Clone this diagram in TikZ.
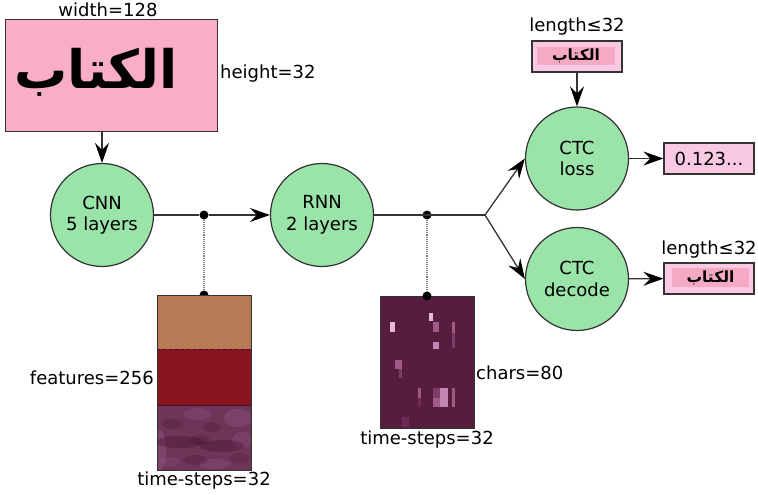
\documentclass[tikz,border=0pt]{standalone}
\usepackage{fontspec}
\setmainfont{DejaVu Sans}
\newfontfamily\arabicfont[Script=Arabic]{DejaVu Sans}
\TeXXeTstate=1
\usetikzlibrary{arrows.meta}
\definecolor{linec}{HTML}{333333}
\definecolor{greenfill}{HTML}{9AE3A9}
\definecolor{bigpink}{HTML}{F9ADC8}
\definecolor{lightpink}{HTML}{F9C9E4}
\definecolor{midpink}{HTML}{F5A9C5}
\definecolor{tanc}{HTML}{B87A55}
\definecolor{redc}{HTML}{8A141E}
\definecolor{purpc}{HTML}{6E3559}
\definecolor{darkp}{HTML}{3E0E2A}
\definecolor{lightp}{HTML}{A06090}
\definecolor{plum}{HTML}{561D3E}
\definecolor{cA}{HTML}{E8B8DC}
\definecolor{cB}{HTML}{A05A85}
\definecolor{cC}{HTML}{7E3D68}
\definecolor{cD}{HTML}{C486B4}
\definecolor{cE}{HTML}{6C2A55}
\begin{document}
\begin{tikzpicture}[x=1pt,y=-1pt,
  font=\fontsize{18}{21.5}\selectfont,
  ln/.style={draw=linec, line width=1.3pt},
  arr/.style={ln, -{Stealth[length=20pt,width=14pt,inset=7pt,color=black]}},
  proc/.style={circle, draw=linec, line width=1.2pt, fill=greenfill,
    minimum size=103pt, inner sep=0pt, align=center},
  dot/.style={circle, fill=black, minimum size=9pt, inner sep=0pt},
  dotln/.style={draw=gray, line width=1.1pt, densely dotted},
  pbox/.style={draw=linec, line width=1.2pt, fill=lightpink,
    minimum width=90pt, minimum height=31pt, inner sep=0pt},
  pinner/.style={fill=midpink, inner sep=0pt},
  blk/.style={draw=linec, line width=0.8pt, inner sep=0pt},
  lbl/.style={inner sep=0pt},
  smallar/.style={font=\fontsize{15.5}{17}\selectfont\arabicfont\bfseries}
]
\useasboundingbox (0,0) rectangle (758,495);

% input image
\node[draw=linec, line width=1pt, fill=bigpink, minimum width=212pt,
  minimum height=111pt, inner sep=0pt] (img) at (111,75.5) {};
\node[inner sep=0pt] (imgtxt) at (96,72)
  {\fontsize{53}{56}\selectfont\arabicfont\bfseries\beginR الكتاب\endR};
\node[lbl] (wlbl) at (108,10) {width=128};
\node[lbl, anchor=west] (hlbl) at (220,74) {height=32};

% processing circles
\node[proc] (cnn) at (102,215) {CNN\\5 layers};
\node[proc] (rnn) at (322,215) {RNN\\2 layers};
\node[proc] (loss) at (577,158.5) {CTC\\loss};
\node[proc] (decode) at (577,279) {CTC\\decode};

% junctions
\node[dot] (d1) at (204,215) {};
\node[dot] (d2) at (427,215) {};
\coordinate (fork) at (485,215);

% main connectors
\draw[arr] (cnn |- img.south) -- (cnn.north);
\draw[ln] (cnn) -- (d1);
\draw[arr] (d1) -- (rnn);
\draw[ln] (rnn) -- (fork);
\draw[arr] (fork) -- (loss.west);
\draw[arr] (fork) -- (decode.west);

% features stack
\node[dot] (d1b) at (204,295) {};
\fill[tanc] (157,295) rectangle (251,349);
\fill[redc] (157,349) rectangle (251,405);
\begin{scope}
  \clip (157,405) rectangle (251,470);
  \fill[purpc] (157,405) rectangle (251,470);
  \foreach \ex/\ey/\rx/\ry/\op in {
     238/418/14/9/0.30, 242/440/10/8/0.25, 160/450/6/20/0.35,
     198/414/14/6/0.25, 215/464/16/5/0.25, 170/462/10/5/0.20}
    \fill[lightp, opacity=\op] (\ex,\ey) ellipse (\rx pt and \ry pt);
  \foreach \ex/\ey/\rx/\ry/\op in {
     180/442/24/6/0.35, 222/446/22/6/0.35, 200/440/10/5/0.25,
     172/424/10/5/0.25, 212/427/9/5/0.25, 195/460/12/5/0.25,
     240/458/10/5/0.2}
    \fill[darkp, opacity=\op] (\ex,\ey) ellipse (\rx pt and \ry pt);
\end{scope}
\draw[darkp, line width=0.8pt, dashed] (157,349) -- (251,349);
\draw[darkp, line width=0.8pt] (157,405) -- (251,405);
\node[blk, minimum width=94pt, minimum height=175pt] (feat) at (204,382.5) {};
\draw[dotln] (d1) -- (d1b);
\node[lbl, anchor=east] (flbl) at (154,378) {features=256};
\node[lbl] (tlbl1) at (204,481) {time-steps=32};

% chars block
\node[blk, fill=plum, minimum width=94pt, minimum height=132pt] (chars) at (427,362) {};
\foreach \xa/\ya/\xb/\yb/\c in {
  390/322/395/332/cA, 429/313/433/321/cA, 433/322/439/332/cB,
  452/322/455/333/cB, 452/333/455/348/cC, 433/342/439/349/cD,
  395/360/402/369/cB, 399/369/402/378/cC, 418/388/421/398/cB,
  418/398/421/407/cE, 433/388/440/398/cC, 433/398/440/407/cB,
  440/388/448/407/cD, 452/388/455/407/cB, 402/417/409/427/cE}
  \fill[\c] (\xa,\ya) rectangle (\xb,\yb);
\node[dot] (d2b) at (427,296) {};
\draw[dotln] (d2) -- (d2b);
\node[lbl, anchor=west] (clbl) at (476,373) {chars=80};
\node[lbl] (tlbl2) at (427,440) {time-steps=32};

% label box feeding the loss
\node[pbox] (lenbox) at (577,56.5) {};
\node[pinner, minimum width=78pt, minimum height=18pt, smallar] (lenin) at (576,56)
  {\beginR الكتاب\endR};
\node[lbl] (len1) at (577,27) {length≤32};
\draw[arr] (lenbox) -- (loss);

% loss value
\node[pbox] (valbox) at (709,158.5) {0.123...};
\draw[arr] (loss) -- (valbox);

% decoded output
\node[pbox] (outbox) at (709,278.5) {};
\node[pinner, minimum width=77pt, minimum height=19pt, smallar] (outin) at (710.5,277.5)
  {\beginR الكتاب\endR};
\node[lbl] (len2) at (709,250) {length≤32};
\draw[arr] (decode) -- (outbox);
\end{tikzpicture}
\end{document}
